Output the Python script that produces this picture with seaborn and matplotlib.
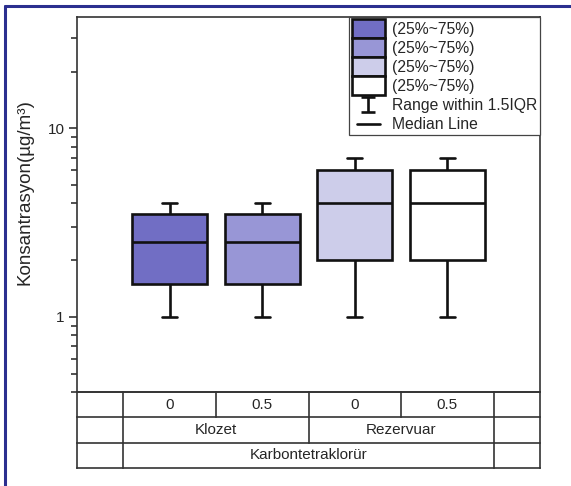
import numpy as np
import pandas as pd
import matplotlib
matplotlib.use("Agg")
import matplotlib.pyplot as plt
import matplotlib.ticker as mticker
from matplotlib.lines import Line2D
from matplotlib.patches import Patch
from matplotlib.legend_handler import HandlerBase
import seaborn as sns

# ---------------- data ----------------
categories = ["Klozet-0", "Klozet-0.5", "Rezervuar-0", "Rezervuar-0.5"]
dose_labels = ["0", "0.5", "0", "0.5"]
group_labels = ["Klozet", "Rezervuar"]
group_members = [[0, 1], [2, 3]]
compound_label = "Karbontetraklorür"
whisker_low = [1.0, 1.0, 1.0, 1.0]
q1 = [1.5, 1.5, 2.0, 2.0]
median = [2.5, 2.5, 4.0, 4.0]
q3 = [3.5, 3.5, 6.0, 6.0]
whisker_high = [4.0, 4.0, 7.0, 7.0]
box_colors = ["#716ec4", "#9896d6", "#cdcdea", "#ffffff"]
legend_box_label = "(25%~75%)"
legend_whisker_label = "Range within 1.5IQR"
legend_median_label = "Median Line"
ytick_values = [1, 10]
ytick_labels = ["1", "10"]
ylabel = "Konsantrasyon(µg/m³)"

# five-number summaries -> sample values reproducing them exactly
rows = []
for i, c in enumerate(categories):
    for v in (whisker_low[i], q1[i], median[i], q3[i], whisker_high[i]):
        rows.append({"cat": c, "value": v})
df = pd.DataFrame(rows)

# ---------------- style ----------------
sns.set_style("ticks")
plt.rcParams["font.family"] = ["Liberation Sans", "DejaVu Sans"]
plt.rcParams["font.size"] = 11

W, H = 571, 486
fig = plt.figure(figsize=(W / 100, H / 100), dpi=100)
fig.patch.set_facecolor("white")

ax_left, ax_right, ax_top, ax_bot = 77, 540, 17, 392
tb_bot = 468
ax = fig.add_axes([ax_left / W, 1 - ax_bot / H, (ax_right - ax_left) / W, (ax_bot - ax_top) / H])
ax_t = fig.add_axes([ax_left / W, 1 - tb_bot / H, (ax_right - ax_left) / W, (tb_bot - ax_bot) / H])

lw = 1.9
edge = "#111111"
sns.boxplot(
    data=df, x="cat", y="value", hue="cat", order=categories, hue_order=categories,
    palette=box_colors, width=0.81, whis=1.5, log_scale=True, legend=False,
    linecolor=edge, linewidth=lw, ax=ax, saturation=1,
    capwidths=0.16,
)

ax.set_xlim(-1, len(categories))
ax.set_ylim(0.4, 39)
ax.set_xticks([])
ax.set_xlabel("")
ax.set_yticks(ytick_values)
ax.set_yticklabels(ytick_labels)
ax.yaxis.set_minor_locator(mticker.LogLocator(base=10, subs=np.arange(2, 10)))
ax.yaxis.set_minor_formatter(mticker.NullFormatter())
ax.tick_params(axis="y", which="major", length=6, width=1.2, color="#333333", labelsize=11, pad=3)
ax.tick_params(axis="y", which="minor", length=4, width=1.2, color="#333333")
for s in ax.spines.values():
    s.set_visible(True)
    s.set_color("#333333")
    s.set_linewidth(1.2)
ax.set_ylabel(ylabel, fontsize=13.5)
ax.yaxis.set_label_coords((34 - ax_left) / (ax_right - ax_left), (ax_bot - 192) / (ax_bot - ax_top))


# ---------------- legend ----------------
class WhiskerHandler(HandlerBase):
    def create_artists(self, legend, orig_handle, xdescent, ydescent, width, height, fontsize, trans):
        cx = -xdescent + width / 2
        y0 = -ydescent + height * 0.1
        y1 = -ydescent + height * 0.9
        hw = width * 0.2
        kw = dict(color=edge, lw=lw, transform=trans, solid_capstyle="butt")
        return [Line2D([cx, cx], [y0, y1], **kw),
                Line2D([cx - hw, cx + hw], [y0, y0], **kw),
                Line2D([cx - hw, cx + hw], [y1, y1], **kw)]


class MedianHandler(HandlerBase):
    def create_artists(self, legend, orig_handle, xdescent, ydescent, width, height, fontsize, trans):
        cx = -xdescent + width / 2
        cy = -ydescent + height / 2
        hw = width * 0.35
        return [Line2D([cx - hw, cx + hw], [cy, cy], color=edge, lw=lw, transform=trans)]


whisker_handle = Line2D([], [])
median_handle = Line2D([], [], marker="")
handles = [Patch(facecolor=c, edgecolor=edge, linewidth=lw) for c in box_colors]
labels = [legend_box_label] * len(box_colors)
handles += [whisker_handle, median_handle]
labels += [legend_whisker_label, legend_median_label]
leg = ax.legend(
    handles, labels, loc="upper right", bbox_to_anchor=(1, 1), borderaxespad=0,
    frameon=True, fancybox=False, edgecolor="#444444", framealpha=1,
    fontsize=11.3, handlelength=2.1, handleheight=1.48, labelspacing=0,
    handletextpad=0.5, borderpad=0.15,
    handler_map={whisker_handle: WhiskerHandler(), median_handle: MedianHandler()},
)
leg.get_frame().set_linewidth(0.9)

# ---------------- category table below axis ----------------
n = len(categories)
ax_t.set_xlim(-1, n)
ax_t.set_ylim(3, 0)
ax_t.axis("off")
tl = dict(color="#333333", lw=1.2, clip_on=False, solid_capstyle="projecting")
for yy in (0, 1, 2, 3):
    ax_t.plot([-1, n], [yy, yy], **tl)
for xx in (-1, -0.5, n - 0.5, n):
    ax_t.plot([xx, xx], [0, 3], **tl)
# dividers between categories inside each group (row 0 only)
for members in group_members:
    for a, b in zip(members[:-1], members[1:]):
        xm = (a + b) / 2
        ax_t.plot([xm, xm], [0, 1], **tl)
# divider between groups (rows 0-1)
for g in range(len(group_members) - 1):
    xm = (group_members[g][-1] + group_members[g + 1][0]) / 2
    ax_t.plot([xm, xm], [0, 2], **tl)
for i, lab in enumerate(dose_labels):
    ax_t.text(i, 0.5, lab, ha="center", va="center", fontsize=11)
for members, lab in zip(group_members, group_labels):
    ax_t.text(np.mean(members), 1.5, lab, ha="center", va="center", fontsize=11)
ax_t.text((n - 1) / 2, 2.5, compound_label, ha="center", va="center", fontsize=11)

# ---------------- blue page frame ----------------
frame_c = "#2b2f8f"
fig.add_artist(Line2D([5 / W, 5 / W], [0, 1 - 6 / H], color=frame_c, lw=2.2, transform=fig.transFigure))
fig.add_artist(Line2D([5 / W, 1], [1 - 6 / H, 1 - 6 / H], color=frame_c, lw=2.2, transform=fig.transFigure))

fig.savefig("out.png", dpi=100)
